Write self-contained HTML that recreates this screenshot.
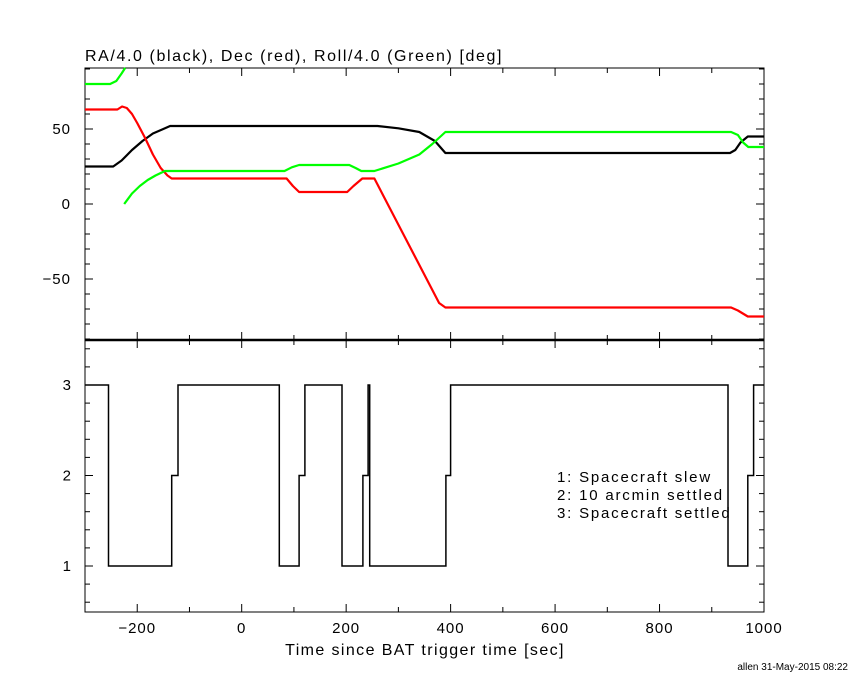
<!DOCTYPE html>
<html><head><meta charset="utf-8"><style>
html,body{margin:0;padding:0;background:#fff;}
svg{display:block;font-family:"Liberation Sans",sans-serif;}
</style></head><body>
<svg id="chart" width="850" height="680" viewBox="0 0 850 680" xmlns="http://www.w3.org/2000/svg">
<rect width="850" height="680" fill="#fff"/>
<text x="85" y="61" font-size="16" letter-spacing="1.6" fill="#000">RA/4.0 (black), Dec (red), Roll/4.0 (Green) [deg]</text>
<text x="425" y="655" font-size="16" letter-spacing="1.4" text-anchor="middle" fill="#000">Time since BAT trigger time [sec]</text>
<text x="848" y="670" font-size="10" text-anchor="end" fill="#000">allen 31-May-2015 08:22</text>
<g font-size="15" letter-spacing="1.8" fill="#000">
<text x="557" y="482">1: Spacecraft slew</text>
<text x="557" y="500">2: 10 arcmin settled</text>
<text x="557" y="518">3: Spacecraft settled</text>
</g>
<g id="axes"></g>
<g id="series"></g>
</svg>
<script>
// ---- data ----
const raT   = [-300,-246,-230,-210,-190,-170,-150,-137,260,300,340,370,390,935,945,955,969,1000];
const raV   = [25,25,29,36,42,47,50,52,52,50.5,48,42,34,34,36,41,45,45];
const decT  = [-300,-238,-229,-220,-210,-200,-185,-170,-155,-142,-134,86,98,110,202,214,231,254,378,390,937,950,969,1000];
const decV  = [63,63,65,64,60,54,44,33,24,19,17,17,12,8,8,12,17,17,-66,-69,-69,-71,-75,-75];
const rollAT = [-300,-252,-240,-230,-223];
const rollAV = [80,80,82,87,91];
const rollBT = [-225,-210,-195,-180,-165,-147,82,96,110,206,218,229,254,300,340,365,390,937,950,960,970,1000];
const rollBV = [0,7,12,16,19,22,22,24.5,26,26,24,22,22,27,33,40,48,48,46,41,38,38];
const stepT = [-300,-255,-134,-122,72,110,121,192,232,242,245,391,400,931,969,980,1000];
const stepV = [3,1,2,3,1,2,3,1,2,3,1,2,3,1,2,3,3];
const xTicks = [-200,0,200,400,600,800,1000];
const topTicks = [-50,0,50];
const botTicks = [1,2,3];

// ---- scales ----
const X0=85,X1=764;
const sx=t=>X0+(t+300)/1300*(X1-X0);
const syTop=v=>204-v*1.5;
const syBot=v=>566-(v-1)*90.5;
const NS="http://www.w3.org/2000/svg";
const axes=document.getElementById('axes'), ser=document.getElementById('series');
function mk(tag,attrs,parent){const e=document.createElementNS(NS,tag);for(const k in attrs)e.setAttribute(k,attrs[k]);parent.appendChild(e);return e;}

let f1=mk('rect',{x:X0,y:68,width:X1-X0,height:272,fill:'none',stroke:'#000','stroke-width':1},axes);


let f2=mk('rect',{x:X0,y:340,width:X1-X0,height:272,fill:'none',stroke:'#000','stroke-width':1},axes);


let dv=mk('line',{x1:X0,x2:X1,y1:340,y2:340,stroke:'#000','stroke-width':2.5},axes);



for(let t=-200;t<=1000;t+=100){
  const x=sx(t), L=(t%200===0)?8:5;
  for(const [yb,yt] of [[340,68],[612,340]]){
    let a=mk('line',{x1:x,x2:x,y1:yb,y2:yb-L,stroke:'#000'},axes);
    
    
    let b=mk('line',{x1:x,x2:x,y1:yt,y2:yt+L,stroke:'#000'},axes);
    
    
  }
}
xTicks.forEach(t=>{
  let tx=mk('text',{x:sx(t),y:633,'font-size':15,'letter-spacing':1,'text-anchor':'middle'},axes);
  tx.textContent=(t<0?'\u2212'+(-t):t);
  
  
});
for(let v=-90;v<=90;v+=10){
  const y=syTop(v), L=(v%50===0)?8:5;
  let a=mk('line',{x1:X0,x2:X0+L,y1:y,y2:y,stroke:'#000'},axes);
  
  
  let b=mk('line',{x1:X1,x2:X1-L,y1:y,y2:y,stroke:'#000'},axes);
  
  
}
topTicks.forEach(v=>{
  let tx=mk('text',{x:71,y:syTop(v)+5,'font-size':15,'letter-spacing':1,'text-anchor':'end'},axes);
  tx.textContent=(v<0?'\u2212'+(-v):v);
  
  
});
for(let i=3;i<=17;i++){
  const v=i/5, y=syBot(v), L=(i%5===0)?8:5;
  let a=mk('line',{x1:X0,x2:X0+L,y1:y,y2:y,stroke:'#000'},axes);
  
  
  let b=mk('line',{x1:X1,x2:X1-L,y1:y,y2:y,stroke:'#000'},axes);
  
  
}
botTicks.forEach(v=>{
  let tx=mk('text',{x:71,y:syBot(v)+5,'font-size':15,'text-anchor':'end'},axes);
  tx.textContent=v;
  
  
});

function line(T,V,color,name){
  const clipV=v=>Math.max(-90.7,Math.min(90.7,v));
  const pts=T.map((t,i)=>sx(t).toFixed(1)+','+syTop(clipV(V[i])).toFixed(1)).join(' ');
  let p=mk('polyline',{points:pts,fill:'none',stroke:color,'stroke-width':2.2,'stroke-linejoin':'round'},ser);
  
  
}
line(raT,raV,'#000','ra-line');
line(decT,decV,'#ff0000','dec-line');
line(rollAT,rollAV,'#00ff00','roll-line-early');
line(rollBT,rollBV,'#00ff00','roll-line');

let d='';
for(let i=0;i<stepT.length-1;i++){
  const x0=sx(stepT[i]), x1=sx(stepT[i+1]), y=syBot(stepV[i]);
  d+=(i===0?'M':'L')+x0.toFixed(1)+','+y.toFixed(1)+' L'+x1.toFixed(1)+','+y.toFixed(1)+' ';
}
let st=mk('path',{d:d,fill:'none',stroke:'#000','stroke-width':1.5},ser);


</script>
</body></html>
